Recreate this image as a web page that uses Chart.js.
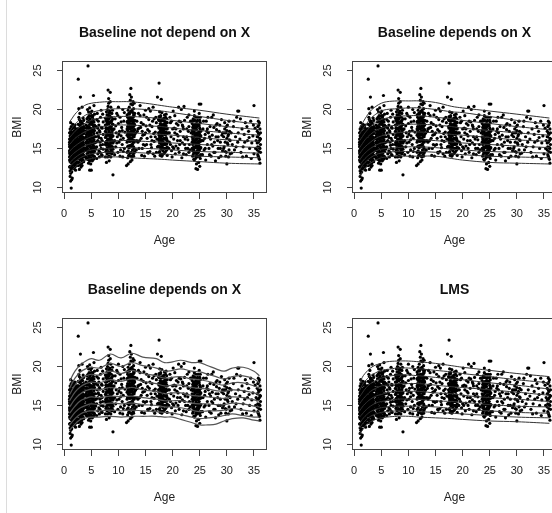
<!DOCTYPE html>
<html>
<head>
<meta charset="utf-8">
<script src="https://cdn.jsdelivr.net/npm/chart.js@4.4.1/dist/chart.umd.min.js"></script>
<style>
  html, body { margin: 0; padding: 0; background: #fff; }
  body { width: 552px; height: 513px; overflow: hidden; position: relative; }
  .panel { position: absolute; width: 276px; height: 256px; }
  .rule { position: absolute; left: 6px; top: 0; width: 1px; height: 513px; background: #dcdcdc; }
</style>
</head>
<body>
<div class="rule"></div>
<div class="panel" style="left:0;top:0"><canvas id="c1" width="276" height="256"></canvas></div>
<div class="panel" style="left:290px;top:0"><canvas id="c2" width="276" height="256"></canvas></div>
<div class="panel" style="left:0;top:257px"><canvas id="c3" width="276" height="256"></canvas></div>
<div class="panel" style="left:290px;top:257px"><canvas id="c4" width="276" height="256"></canvas></div>
<script>
const panelTitles = ["Baseline not depend on X", "Baseline depends on X", "Baseline depends on X", "LMS"];
const xTicks = [0, 5, 10, 15, 20, 25, 30, 35];
const yTicks = [10, 15, 20, 25];
const xLabel = "Age";
const yLabel = "BMI";

// observations, stored as age*10, bmi*10 pairs, one list per age group
const dotsA = [10,152,11,148,12,160,13,141,14,155,15,163,16,137,17,150,18,158,19,145,20,167,21,152,22,139,23,160,
  10,170,11,133,12,146,13,157,14,128,15,149,16,162,17,171,18,143,19,136,20,154,21,164,22,175,23,147,
  10,126,11,161,12,172,13,150,14,166,15,138,16,153,17,129,18,165,19,177,20,142,21,131,22,156,23,168,
  10,144,11,156,12,118,13,168,14,147,15,176,16,144,17,159,18,135,19,151,20,126,21,147,22,163,23,133,
  11,121,12,139,13,132,14,175,15,157,16,168,17,140,18,151,19,160,20,148,21,170,22,145,23,154,
  10,158,11,114,12,154,13,162,14,140,15,131,16,181,17,146,18,170,19,129,20,161,21,139,22,150,23,141,
  10,135,11,166,12,127,13,124,14,159,15,145,16,134,17,164,18,124,19,155,20,140,21,157,22,168,23,172,
  11,175,12,165,13,145,14,136,15,152,16,158,17,135,18,148,19,167,20,133,21,149,22,136,23,151,
  12,183,14,120,16,125,18,178,20,180,22,128,11,142,13,178,15,169,17,155,19,142,21,122,
  10,147,11,153,12,136,13,165,14,151,15,142,16,149,17,167,18,139,19,162,20,150,21,143,22,158,23,137,
  10,162,11,139,12,157,13,136,14,143,15,160,16,171,17,138,18,155,19,148,20,171,21,160,22,141,23,164,
  10,139,11,170,12,149,13,153,14,163,15,134,16,141,17,152,18,161,19,139,20,137,21,153,22,173,23,146,
  10,155,11,127,12,163,13,147,14,132,15,167,16,130,17,144,18,132,19,173,20,158,21,168,22,133,23,157,
  11,146,12,144,13,171,14,124,15,155,16,155,17,125,18,157,19,134,20,146,21,135,22,162];
const dotsB = [25,160,26,152,27,171,28,145,29,163,30,156,31,140,32,168,33,151,34,177,35,158,36,146,
  25,143,26,167,27,155,28,180,29,137,30,172,31,159,32,148,33,165,34,139,35,170,36,162,
  25,175,26,138,27,162,28,153,29,149,30,142,31,185,32,157,33,134,34,160,35,147,36,178,
  25,132,26,181,27,147,28,166,29,174,30,163,31,150,32,137,33,173,34,152,35,189,36,141,
  26,128,27,190,28,136,29,158,30,150,31,166,32,183,33,144,34,169,35,135,36,155,
  27,139,28,159,29,195,30,135,31,176,32,161,33,156,34,146,35,164,36,186,
  26,158,28,173,30,184,32,143,34,182,29,129,33,128,36,133,27,201,33,203,28,123,31,126,
  24,150,25,155,26,144,27,168,28,150,29,141,30,166,31,154,32,172,33,160,34,143,35,153,36,169,37,150,
  24,165,25,168,26,175,27,143,28,162,29,168,30,147,31,171,32,152,33,139,34,165,35,177,36,149,37,163,
  24,141,25,149,26,161,27,158,28,141,29,154,30,179,31,145,32,163,33,182,34,156,35,142,36,173,37,140,
  24,172,25,137,26,148,27,132,28,187,29,180,30,140,31,162,32,131,33,150,34,174,35,161,36,139,37,176];
const dotsC = [40,165,41,158,42,172,43,150,44,162,45,178,46,155,47,167,48,145,49,171,50,160,51,152,52,183,53,163,54,148,55,169,56,157,
  40,149,41,176,42,143,43,184,44,153,45,139,46,170,47,159,48,188,49,142,50,175,51,166,52,147,53,155,54,179,55,140,56,173,
  40,180,41,137,42,163,43,168,44,190,45,156,46,146,47,181,48,161,49,156,50,138,51,185,52,164,53,192,54,158,55,184,56,146,
  41,168,42,154,43,136,44,142,45,197,46,185,47,134,48,152,49,196,50,168,51,143,52,134,53,144,54,187,55,151,56,194,
  40,139,42,188,44,171,46,135,48,176,50,150,52,175,54,136,56,165,43,200,47,202,51,198,55,205,45,131,49,130,
  40,157,41,147,42,159,43,176,44,146,45,165,46,162,47,174,48,153,49,164,50,181,51,159,52,156,53,171,54,165,55,161,56,152,
  40,172,41,162,42,148,43,158,44,177,45,147,46,177,47,141,48,168,49,184,50,145,51,172,52,190,53,150,54,172,55,176,56,180,
  41,151,43,143,45,171,47,188,49,149,51,136,53,180,55,137,42,179,44,137,46,192,48,138,50,192,52,141,54,153,56,139];
const dotsD = [58,165,59,178,60,152,61,170,62,160,63,185,64,147,65,173,66,158,67,190,68,163,69,142,70,176,71,155,72,168,
  58,149,60,187,62,143,64,180,66,171,68,150,70,160,72,184,59,158,61,195,63,166,65,139,67,154,69,177,71,194,
  60,137,64,164,68,199,62,176,66,145,70,141,72,149];
const dotsE = [76,172,77,165,78,180,79,158,80,175,81,168,82,190,83,162,84,177,85,150,86,184,87,169,88,157,89,181,90,166,
  76,155,77,186,78,148,79,193,80,162,81,144,82,171,83,182,84,155,85,196,86,163,87,147,88,175,89,160,90,188,
  76,189,77,146,78,167,79,175,80,200,81,184,82,153,83,140,84,192,85,170,86,151,87,190,88,143,89,199,90,149,
  77,176,78,197,79,143,80,150,81,204,82,161,83,173,84,145,85,159,86,203,87,178,88,186,89,152,90,174,
  76,139,78,159,80,187,82,208,84,166,86,139,88,165,80,139,83,196,85,210,87,160,81,156,79,167,78,132,83,134,82,214,
  76,164,77,158,78,175,79,183,80,168,81,176,82,146,83,168,84,184,85,163,86,175,87,153,88,170,89,173,90,157,
  76,180,77,171,78,154,79,150,80,181,81,162,82,182,83,151,84,160,85,178,86,168,87,184,88,150,89,166,90,181,
  77,157,79,186,81,193,83,188,85,144,87,170,89,145,78,189,80,156,82,167,84,198,86,157,88,195,90,158];
const dotsF = [92,175,93,160,94,188,95,152,96,170,97,195,98,165,99,145,100,182,101,158,102,172,103,190,104,148,105,166,106,177,107,155,108,200,109,163,110,185,111,150,112,171,
  93,142,95,179,97,157,99,192,101,168,103,140,105,184,107,173,109,146,111,196,100,203,104,161,108,139];
const dotsG = [116,175,117,168,118,182,119,160,120,178,121,170,122,190,123,163,124,185,125,155,126,172,127,196,128,166,129,150,130,180,
  116,158,117,190,118,147,119,195,120,163,121,187,122,154,123,177,124,145,125,199,126,161,127,183,128,140,129,192,130,168,
  116,193,117,152,118,170,119,176,120,203,121,144,122,167,123,207,124,172,125,181,126,148,127,158,128,201,129,165,130,146,
  117,178,118,199,119,141,120,151,121,181,122,212,123,140,124,161,125,169,126,187,127,142,128,178,129,174,130,195,
  116,145,118,160,120,186,122,175,124,198,126,206,128,152,119,167,123,153,125,139,127,210,121,159,129,208,117,138,
  115,128,118,130,122,133,125,135,
  116,167,117,160,118,176,119,183,120,170,121,164,122,182,123,171,124,178,125,162,126,180,127,173,128,186,129,158,130,174,
  116,184,117,173,118,165,119,153,120,194,121,175,122,160,123,188,124,153,125,176,126,167,127,190,128,171,129,182,130,160,
  117,185,119,188,121,196,123,160,125,190,127,165,129,144,118,153,120,141,122,196,124,190,126,155,128,193,130,186];
const dotsH = [132,170,134,185,136,158,138,176,140,192,142,163,144,150,146,181,148,168,150,199,152,155,154,174,156,187,158,146,160,165,162,178,164,203,166,159,168,171,170,183,172,152,
  133,148,135,172,137,195,139,160,141,177,143,141,145,167,147,193,149,154,151,179,153,163,155,144,157,172,159,198,161,151,163,185,165,169,167,140,169,190,171,162,
  140,205,148,140,156,201,164,143,
  134,160,138,150,142,183,146,155,150,170,154,145,158,180,162,160,166,188,170,145,136,175,144,172,152,190,160,155,168,165];
const dotsI = [174,170,175,160,176,178,177,152,178,166,179,185,180,158,181,173,182,147,183,181,184,163,185,155,186,176,187,168,188,149,189,188,190,160,
  174,153,175,186,176,146,177,172,178,192,179,159,180,179,181,142,182,170,183,155,184,189,185,170,186,150,187,182,188,164,189,156,190,175,
  174,187,175,145,176,165,177,190,178,151,179,176,180,196,181,161,182,186,183,143,184,172,185,193,186,162,187,146,188,179,189,169,190,141,
  175,167,177,141,179,163,181,187,183,169,185,144,187,155,189,183,176,197,180,140,184,150,188,194,178,143,
  174,162,175,176,176,157,177,182,178,174,179,149,180,167,181,180,182,158,183,175,184,157,185,178,186,168,187,175,188,157,189,162,190,183,
  174,178,175,152,176,186,177,161,178,181,179,170,180,151,181,166,182,178,183,162,184,180,185,163,186,184,187,162,188,171,189,176,190,152,
  175,191,177,164,179,155,181,153,183,188,185,185,187,190,189,148];
const dotsJ = [192,170,194,158,196,183,198,147,200,175,202,162,204,192,206,153,208,168,210,180,212,145,214,172,216,200,218,157,220,165,222,186,224,150,226,175,228,161,230,193,232,148,234,170,
  193,150,195,190,197,165,199,139,201,198,203,176,205,143,207,182,209,160,211,203,213,155,215,184,217,138,219,178,221,204,223,162,225,142,227,190,229,172,231,155,233,185,
  200,152,210,166,220,143,230,178,
  194,170,198,185,202,150,206,175,210,150,214,160,218,180,222,155,226,165,230,145,196,155,204,170,212,185,220,175,228,150];
const dotsK = [236,165,237,155,238,172,239,148,240,160,241,178,242,152,243,168,244,143,245,185,246,158,247,170,248,146,249,163,250,176,251,151,252,166,
  236,150,237,177,238,142,239,186,240,171,241,145,242,181,243,156,244,174,245,139,246,167,247,190,248,159,249,148,250,160,251,183,252,142,
  236,182,237,140,238,160,239,164,240,192,241,158,242,137,243,190,244,161,245,153,246,179,247,144,248,181,249,195,250,140,251,165,252,172,
  237,162,239,136,241,167,243,145,245,170,247,157,249,171,251,137,238,188,242,166,246,140,250,186,240,135,248,132,244,130,240,198,
  236,158,237,169,238,151,239,175,240,152,241,169,242,160,243,176,244,153,245,163,246,150,247,164,248,170,249,155,250,168,251,159,252,151,
  236,173,237,147,238,180,239,157,240,178,241,151,242,174,243,162,244,182,245,147,246,186,247,152,248,153,249,179,250,149,251,174,252,160,
  237,186,239,144,241,186,243,140,245,178,247,181,249,140,251,190];
const dotsL = [254,160,256,175,258,148,260,168,262,185,264,155,266,170,268,142,270,162,272,190,274,153,276,177,278,145,280,165,282,182,284,150,286,172,288,158,290,187,292,147,
  255,142,257,185,259,163,261,135,263,172,265,190,267,150,269,178,271,140,273,167,275,193,277,158,279,134,281,174,283,160,285,138,287,180,289,140,291,167,
  256,160,260,150,264,175,268,165,272,155,276,145,280,180,284,165,288,150,292,170];
const dotsM = [294,165,295,152,296,175,297,158,298,170,299,145,300,163,301,180,302,155,303,168,304,148,305,172,306,160,
  294,150,296,183,298,140,300,173,302,166,304,185,306,143,295,170,297,146,299,178,301,157,303,139,305,161,300,130];
const dotsN = [308,170,310,155,312,178,314,148,316,165,318,190,320,158,322,198,324,162,326,145,328,175,330,152,332,168,334,183,336,140,338,160,340,172,342,150,344,185,346,157,348,166,350,143,352,176,354,160,
  309,144,313,185,317,152,321,170,325,188,329,139,333,158,337,178,341,164,345,137,349,180,353,150];
const dotsO = [356,165,357,152,358,170,359,146,360,160,361,175,362,155,356,148,357,178,358,140,359,168,360,183,361,150,362,162,
  356,172,357,142,358,158,359,180,360,136,361,163,362,145,356,157,358,185,360,151,362,170,357,165,359,138,361,131];
const dotsOutliers = [13,99,12,108,14,110,15,112,26,239,30,216,44,256,47,122,50,122,54,218,81,225,85,222,90,116,
  123,227,121,219,124,216,175,234,179,213,172,216,243,124,246,123,250,127,249,207,252,207,350,205,320,198];

// centile curves, bottom to top
const smoothAges = [1, 1.5, 2, 3, 4, 5, 6, 8, 10, 12, 15, 18, 20, 25, 30, 36];
const curvesNoDep = [
  [11.8,12.2,12.6,13.1,13.5,13.7,13.8,13.9,13.9,13.8,13.7,13.6,13.5,13.3,13.1,13.0],
  [12.6,13.0,13.3,13.8,14.1,14.3,14.4,14.5,14.5,14.5,14.4,14.3,14.2,14.0,13.9,13.8],
  [13.1,13.5,13.8,14.3,14.6,14.8,14.9,15.0,15.1,15.1,15.0,14.9,14.8,14.6,14.5,14.4],
  [13.8,14.2,14.5,15.0,15.4,15.6,15.8,15.9,16.0,16.0,15.9,15.8,15.7,15.5,15.3,15.1],
  [14.6,15.0,15.3,15.8,16.2,16.5,16.7,16.9,17.0,17.0,16.9,16.8,16.7,16.4,16.1,15.9],
  [15.5,15.9,16.3,16.8,17.2,17.5,17.7,17.9,18.0,18.0,17.9,17.8,17.6,17.3,17.0,16.7],
  [16.4,16.8,17.2,17.8,18.3,18.6,18.8,19.0,19.1,19.1,19.0,18.8,18.6,18.2,17.8,17.4],
  [17.2,17.7,18.1,18.8,19.3,19.6,19.8,20.0,20.1,20.1,20.0,19.8,19.6,19.1,18.6,18.1],
  [18.4,18.9,19.4,20.1,20.6,20.8,20.9,21.0,21.0,21.0,20.8,20.5,20.3,19.9,19.4,18.9]
];
const curvesDep = [
  [11.4,12.0,12.5,13.1,13.5,13.8,13.9,14.0,14.0,14.0,14.0,13.7,13.5,13.2,13.1,13.0],
  [12.2,12.8,13.2,13.8,14.2,14.4,14.5,14.6,14.6,14.6,14.5,14.3,14.2,14.0,13.9,13.8],
  [12.8,13.3,13.7,14.3,14.7,14.9,15.0,15.1,15.2,15.2,15.1,14.9,14.8,14.6,14.5,14.4],
  [13.5,14.0,14.4,15.0,15.4,15.7,15.8,16.0,16.1,16.1,16.0,15.8,15.7,15.5,15.3,15.1],
  [14.3,14.8,15.2,15.8,16.3,16.6,16.8,17.0,17.1,17.1,17.0,16.8,16.7,16.4,16.1,15.9],
  [15.1,15.6,16.1,16.8,17.3,17.6,17.8,18.0,18.1,18.1,18.0,17.8,17.6,17.3,17.0,16.7],
  [16.0,16.5,17.0,17.8,18.4,18.7,18.9,19.1,19.2,19.2,19.0,18.8,18.6,18.2,17.8,17.4],
  [16.8,17.4,17.9,18.8,19.4,19.8,20.0,20.1,20.2,20.2,20.0,19.7,19.6,19.1,18.6,18.1],
  [17.6,18.2,18.8,19.8,20.4,20.8,21.0,21.1,21.1,21.1,20.9,20.4,20.2,19.8,19.4,18.9]
];
const curvesLMS = [
  [11.3,11.8,12.3,12.9,13.2,13.4,13.5,13.6,13.6,13.5,13.4,13.3,13.2,13.0,12.9,12.7],
  [12.1,12.6,13.0,13.6,13.9,14.1,14.2,14.3,14.3,14.2,14.1,14.0,13.9,13.7,13.5,13.4],
  [12.7,13.2,13.6,14.2,14.5,14.7,14.8,14.9,14.9,14.9,14.8,14.6,14.5,14.3,14.1,14.0],
  [13.5,13.9,14.3,14.9,15.3,15.5,15.6,15.8,15.8,15.8,15.6,15.5,15.4,15.1,14.9,14.8],
  [14.3,14.8,15.2,15.8,16.2,16.4,16.6,16.8,16.8,16.8,16.6,16.5,16.3,16.0,15.8,15.5],
  [15.2,15.7,16.1,16.8,17.2,17.5,17.6,17.8,17.8,17.8,17.6,17.4,17.3,17.0,16.7,16.3],
  [16.1,16.6,17.1,17.8,18.2,18.5,18.7,18.9,18.9,18.8,18.6,18.4,18.3,17.9,17.6,17.1],
  [16.9,17.6,18.1,18.8,19.2,19.5,19.6,19.8,19.8,19.7,19.5,19.3,19.1,18.7,18.3,17.9],
  [17.8,18.6,19.1,19.8,20.2,20.4,20.6,20.7,20.7,20.6,20.4,20.1,19.9,19.5,19.1,18.7]
];
const wavyAges = [1, 2, 3, 4, 5, 6.5, 8.5, 10.5, 12.5, 14.5, 17, 18.5, 20, 21.5, 23.5, 25, 26.5, 28, 29.5, 31, 33, 35, 36];
const curvesDepWavy = [
  [11.8,12.6,13.2,13.4,13.5,13.5,13.6,13.5,13.6,13.6,13.6,13.5,13.5,13.2,12.8,12.5,12.5,12.6,13.0,13.3,13.4,13.1,13.0],
  [12.5,13.3,13.9,14.2,14.3,14.3,14.4,14.3,14.4,14.3,14.2,14.1,14.0,13.8,13.5,13.3,13.4,13.5,13.7,13.9,13.7,13.5,13.5],
  [13.2,14.1,14.7,15.0,15.2,15.1,15.3,15.2,15.3,15.1,15.0,14.8,14.8,14.7,14.4,14.2,14.3,14.3,14.4,14.6,14.4,14.2,14.1],
  [14.0,14.9,15.6,15.9,16.1,16.0,16.2,16.1,16.2,16.0,15.8,15.6,15.6,15.6,15.3,15.2,15.2,15.1,15.1,15.3,15.2,14.9,14.8],
  [14.8,15.8,16.5,16.9,17.1,17.0,17.3,17.1,17.3,17.0,16.8,16.5,16.6,16.6,16.3,16.2,16.1,16.0,15.9,16.1,16.0,15.7,15.6],
  [15.6,16.7,17.4,17.8,18.0,17.9,18.3,18.1,18.4,18.1,17.8,17.5,17.6,17.6,17.3,17.2,17.1,16.9,16.8,17.0,16.9,16.6,16.4],
  [16.4,17.6,18.4,18.8,19.0,18.9,19.4,19.1,19.5,19.1,18.8,18.5,18.6,18.7,18.4,18.3,18.1,17.8,17.6,17.9,17.9,17.5,17.2],
  [17.2,18.5,19.3,19.7,19.9,19.8,20.4,20.0,20.5,20.1,19.8,19.4,19.5,19.7,19.4,19.3,19.0,18.7,18.4,18.7,18.8,18.4,17.9],
  [18.1,19.4,20.2,20.7,21.0,20.8,21.6,21.1,21.7,21.2,21.0,20.5,20.6,20.8,20.5,20.5,20.1,19.7,19.4,19.8,19.9,19.4,18.8]
];

const points = [dotsA, dotsB, dotsC, dotsD, dotsE, dotsF, dotsG, dotsH, dotsI, dotsJ, dotsK, dotsL, dotsM, dotsN, dotsO, dotsOutliers]
  .flatMap(list => {
    const out = [];
    for (let i = 0; i < list.length; i += 2) out.push({ x: list[i] / 10, y: list[i + 1] / 10 });
    return out;
  });

const FONT = "'Liberation Sans', Arial, Helvetica, sans-serif";
const INK = "#222";

const framePlugin = {
  id: "frame",
  afterDraw(chart, args, opts) {
    const { ctx, chartArea: a } = chart;
    ctx.save();
    ctx.strokeStyle = "#444";
    ctx.lineWidth = 1;
    ctx.strokeRect(a.left + 0.5, a.top + 0.5, a.right - a.left - 1, a.bottom - a.top - 1);
    ctx.fillStyle = "#111";
    ctx.font = "bold 14px " + FONT;
    ctx.textAlign = "center";
    ctx.textBaseline = "middle";
    ctx.fillText(opts.text, (a.left + a.right) / 2, 33);
    ctx.restore();
  }
};

function makePanel(id, title, ages, curves, lineColor, lineWidth) {
  const datasets = [{
    type: "scatter",
    data: points,
    pointRadius: 1.6,
    borderWidth: 0,
    backgroundColor: "#000",
    order: 2
  }];
  curves.forEach(c => {
    datasets.push({
      type: "line",
      data: ages.map((a, i) => ({ x: a, y: c[i] })),
      borderColor: lineColor,
      borderWidth: lineWidth,
      pointRadius: 0,
      tension: 0.4,
      fill: false,
      order: 1
    });
  });

  new Chart(document.getElementById(id), {
    type: "scatter",
    data: { datasets },
    plugins: [framePlugin],
    options: {
      responsive: false,
      animation: false,
      events: [],
      devicePixelRatio: 1,
      layout: { padding: { top: 61, right: 9, left: 0, bottom: 0 } },
      plugins: { legend: { display: false }, tooltip: { enabled: false }, frame: { text: title } },
      scales: {
        x: {
          type: "linear", min: -0.4, max: 37.4,
          afterBuildTicks: s => { s.ticks = xTicks.map(v => ({ value: v })); },
          afterFit: s => { s.height = 63; },
          border: { display: false },
          grid: { drawOnChartArea: false, drawTicks: true, tickLength: 6, color: "#444" },
          ticks: { color: INK, padding: 8, maxRotation: 0, font: { family: FONT, size: 11 } },
          title: { display: true, text: xLabel, color: INK, font: { family: FONT, size: 12 }, padding: { bottom: 8 } }
        },
        y: {
          type: "linear", min: 9.27, max: 26.23,
          afterBuildTicks: s => { s.ticks = yTicks.map(v => ({ value: v })); },
          afterFit: s => { s.width = 62; },
          border: { display: false },
          grid: { drawOnChartArea: false, drawTicks: true, tickLength: 5, color: "#444" },
          ticks: { color: INK, padding: 13, minRotation: 90, maxRotation: 90, crossAlign: "center", font: { family: FONT, size: 11 } },
          title: { display: true, text: yLabel, color: INK, font: { family: FONT, size: 12 }, padding: { top: 10 } }
        }
      }
    }
  });
}

makePanel("c1", panelTitles[0], smoothAges, curvesNoDep, "#333", 1);
makePanel("c2", panelTitles[1], smoothAges, curvesDep, "#333", 1);
makePanel("c3", panelTitles[2], wavyAges, curvesDepWavy, "#555", 1.2);
makePanel("c4", panelTitles[3], smoothAges, curvesLMS, "#333", 1);
</script>
</body>
</html>
